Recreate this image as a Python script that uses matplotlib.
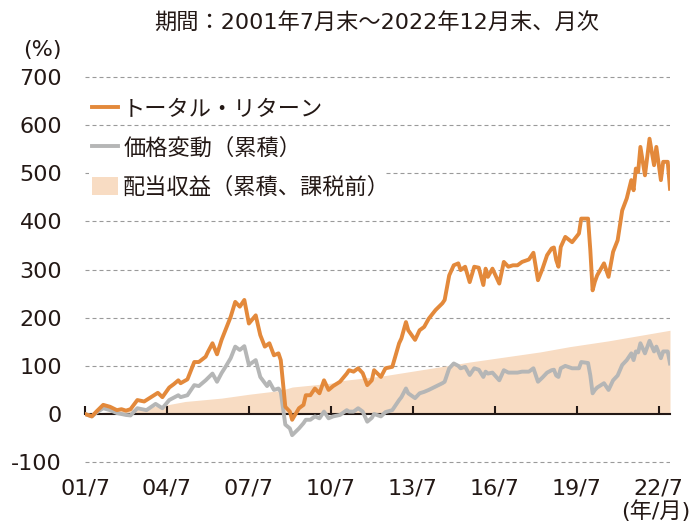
import matplotlib
matplotlib.use('Agg')
import matplotlib.pyplot as plt
from matplotlib.patches import Patch, Rectangle
from matplotlib.lines import Line2D

plt.rcParams['font.family'] = ['DejaVu Sans', 'Noto Sans CJK JP']

# months since 2001/7 (0 = 2001/7, 257 = 2022/12)
tr_month = [0, 3, 5, 8, 11, 14, 16, 18, 20, 23, 26, 29, 32, 34, 37, 39, 41, 42, 45, 48,
            50, 53, 54, 56, 58, 60, 62, 64, 66, 68, 70, 72, 75, 77, 79, 81, 83, 85, 86, 88,
            90, 91, 94, 96, 97, 99, 101, 103, 105, 107, 109, 112, 115, 116, 118, 120, 122, 124, 126, 127,
            130, 132, 135, 138, 139, 141, 142, 145, 147, 149, 151, 154, 157, 158, 160, 162, 164, 165, 167, 169,
            171, 173, 175, 176, 177, 179, 182, 184, 186, 188, 190, 192, 195, 197, 199, 201, 203, 205, 206, 207,
            208, 209, 211, 214, 217, 218, 221, 222, 223, 224, 225, 228, 230, 232, 234, 236, 238, 240, 241, 242,
            243, 244, 246, 248, 250, 251, 253, 254, 256, 257]
tr_value = [0, -5, 5, 19, 15, 8, 10, 7, 10, 29, 26, 35, 44, 35, 55, 62, 70, 64, 72, 108,
            108, 119, 129, 147, 124, 154, 178, 202, 233, 223, 237, 188, 205, 164, 140, 147, 122, 126, 112, 15,
            5, -12, 12, 19, 39, 39, 53, 43, 70, 50, 58, 67, 84, 91, 88, 95, 85, 60, 70, 91,
            77, 95, 98, 147, 157, 191, 174, 154, 174, 181, 198, 216, 230, 237, 288, 309, 313, 299, 306, 274,
            306, 304, 268, 302, 285, 302, 271, 316, 306, 309, 309, 316, 321, 335, 278, 302, 330, 344, 346, 320,
            306, 347, 368, 357, 375, 406, 406, 340, 257, 275, 288, 313, 285, 337, 361, 423, 448, 486, 465, 510,
            503, 555, 496, 572, 517, 555, 486, 524, 524, 468]

pr_month = [0, 3, 5, 8, 11, 14, 18, 20, 23, 27, 31, 34, 37, 41, 42, 45, 48, 50, 53, 56,
            58, 60, 62, 64, 66, 68, 70, 72, 75, 77, 80, 81, 83, 85, 86, 88, 90, 91, 94, 96,
            97, 99, 101, 103, 105, 107, 109, 112, 115, 116, 118, 120, 122, 124, 126, 127, 130, 132, 135, 138,
            139, 141, 142, 145, 147, 149, 151, 154, 157, 158, 160, 162, 164, 165, 167, 169, 171, 173, 175, 176,
            177, 179, 182, 184, 186, 188, 190, 192, 195, 197, 199, 201, 203, 205, 206, 207, 208, 209, 211, 214,
            217, 218, 221, 222, 223, 224, 225, 228, 230, 232, 234, 236, 238, 240, 241, 242, 243, 244, 246, 248,
            250, 251, 253, 254, 256, 257]
pr_value = [0, -5, 3, 12, 8, 2, -2, -3, 12, 8, 21, 12, 29, 39, 35, 39, 60, 58, 70, 84,
            67, 85, 100, 116, 140, 133, 141, 102, 112, 77, 58, 67, 50, 53, 46, -22, -30, -44, -30, -19,
            -12, -12, -5, -9, 5, -9, -5, -2, 8, 5, 5, 12, 5, -16, -8, 0, -5, 4, 8, 29,
            35, 53, 43, 33, 43, 46, 50, 57, 64, 67, 95, 105, 100, 95, 98, 81, 95, 92, 77, 88,
            84, 86, 70, 91, 86, 86, 86, 88, 88, 95, 67, 76, 86, 91, 92, 80, 77, 95, 100, 95,
            95, 108, 106, 80, 43, 50, 55, 64, 50, 70, 80, 102, 112, 126, 112, 130, 128, 147, 126, 152,
            130, 140, 116, 130, 130, 105]

div_month = [0, 12, 24, 36, 44, 60, 72, 86, 91, 108, 112, 125, 132, 160, 169, 200, 213, 230, 257]
div_value = [0, 5, 12, 19, 26, 33, 41, 49, 56, 64, 69, 76, 80, 101, 108, 129, 140, 152, 174]

y_ticks = [-100, 0, 100, 200, 300, 400, 500, 600, 700]
x_ticks = [0, 36, 72, 108, 144, 180, 216, 252]
x_labels = ['01/7', '04/7', '07/7', '10/7', '13/7', '16/7', '19/7', '22/7']

title = '期間：2001年7月末～2022年12月末、月次'
labels = ['トータル・リターン', '価格変動（累積）', '配当収益（累積、課税前）']

C_TR = '#E3893B'
C_PR = '#B5B6B6'
C_DIV = '#F8DCC3'
C_TXT = '#231815'

W, H = 692, 521
fig = plt.figure(figsize=(W / 100, H / 100), dpi=100)
ppu = 385 / 800.0
ylo, yhi = -106, 706
y_bot = 414 + (-ylo) * ppu
y_top = 414 - yhi * ppu
ax = fig.add_axes([85 / W, 1 - y_bot / H, (670 - 85) / W, (y_bot - y_top) / H])
ax.set_xlim(0, 257)
ax.set_ylim(ylo, yhi)

ax.fill_between(div_month, 0, div_value, color=C_DIV, lw=0, zorder=1)
ax.plot(pr_month, pr_value, color=C_PR, lw=2.8, zorder=3, solid_joinstyle='round')
ax.plot(tr_month, tr_value, color=C_TR, lw=2.8, zorder=4, solid_joinstyle='round')

for v in y_ticks:
    if v != 0:
        ax.axhline(v, color='#9a9a9a', lw=0.8, ls=(0, (3.6, 2.7)), zorder=0.5)

# white backing behind the last legend row (hides the gridline there, as in the original)
ax.add_patch(Rectangle((89 / W, 1 - 200 / H), (386 - 89) / W, 30 / H,
                       transform=fig.transFigure, facecolor='white', edgecolor='none',
                       zorder=0.8))

for s in ['left', 'right', 'top']:
    ax.spines[s].set_visible(False)
ax.spines['bottom'].set_position(('data', 0))
ax.spines['bottom'].set_color(C_TXT)
ax.spines['bottom'].set_linewidth(1.5)
ax.spines['bottom'].set_zorder(2.5)

ax.set_xticks(x_ticks)
ax.set_xticklabels(x_labels)
ax.tick_params(axis='x', direction='in', length=6, width=1.5, color=C_TXT,
               pad=46.5, labelsize=16, labelcolor=C_TXT)
ax.set_yticks(y_ticks)
ax.set_yticklabels([str(v) for v in y_ticks])
ax.tick_params(axis='y', length=0, pad=16.5, labelsize=16, labelcolor=C_TXT)

fig.text(377 / W, 1 - 22 / H, title, ha='center', va='center', fontsize=16, color=C_TXT)
fig.text(42 / W, 1 - 50 / H, '(%)', ha='center', va='center', fontsize=16, color=C_TXT)
fig.text(690 / W, 1 - 511 / H, '(年/月)', ha='right', va='center', fontsize=16, color=C_TXT)

handles = [Line2D([], [], color=C_TR, lw=2.8),
           Line2D([], [], color=C_PR, lw=2.8),
           Patch(facecolor=C_DIV, edgecolor='none')]
fig.legend(handles, labels, loc='upper left', bbox_to_anchor=(92 / W, 1 - 99 / H),
           frameon=False, fontsize=16, handlelength=1.15, handleheight=0.9,
           handletextpad=0.25, labelspacing=0.8, borderpad=0, borderaxespad=0,
           labelcolor=C_TXT)

fig.savefig('out.png', dpi=100)
